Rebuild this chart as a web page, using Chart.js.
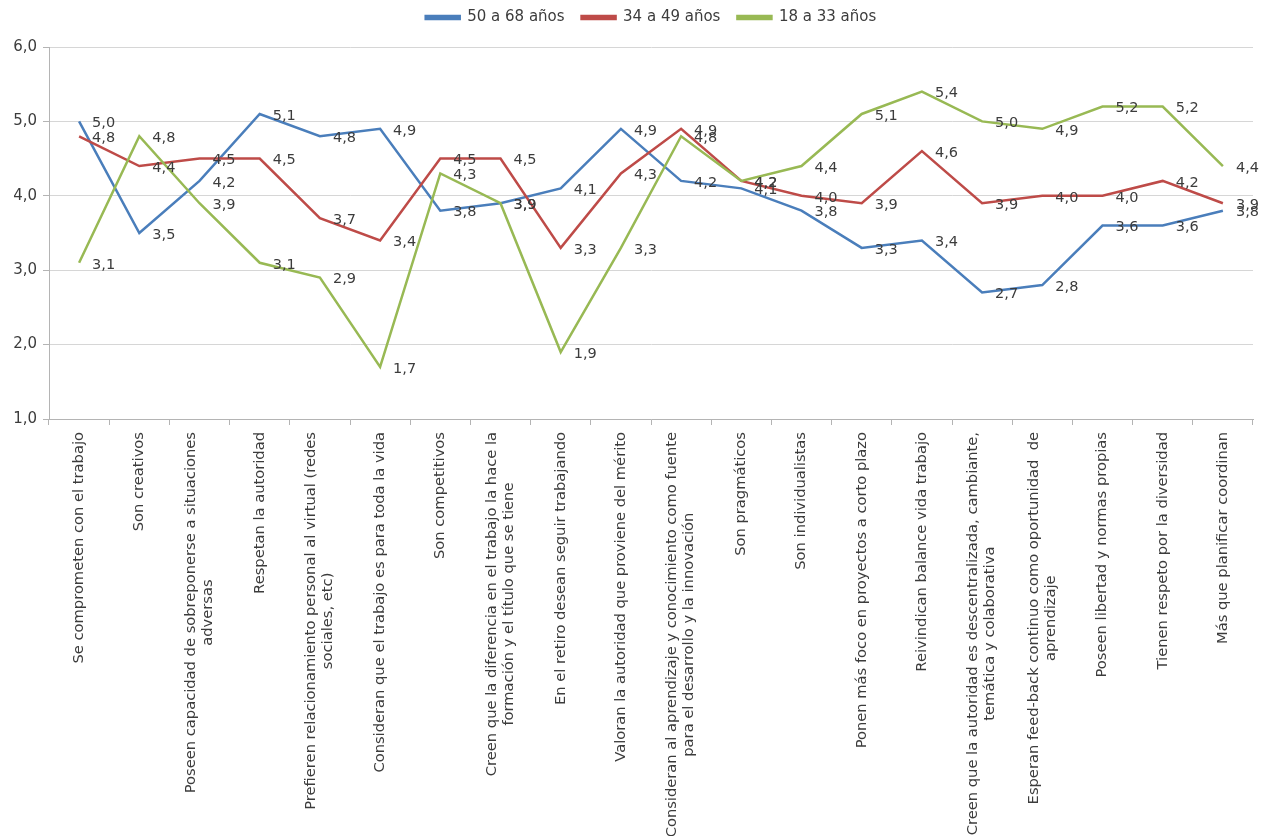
<!DOCTYPE html>
<html>
<head>
<meta charset="utf-8">
<title>Percepción por franja de edad</title>
<script src="https://cdn.jsdelivr.net/npm/chart.js@4.4.1/dist/chart.umd.min.js"></script>
<style>
  html, body { margin: 0; padding: 0; background: #ffffff; }
  #wrap { width: 1271px; height: 836px; position: relative; }
</style>
</head>
<body>
<div id="wrap"><canvas id="grafico"></canvas></div>
<script>
// Afirmaciones evaluadas (cada elemento = líneas de la etiqueta)
const categorias = [
  ['Se comprometen con el trabajo'],
  ['Son creativos'],
  ['Poseen capacidad de sobreponerse a situaciones', 'adversas'],
  ['Respetan la autoridad'],
  ['Prefieren relacionamiento personal al virtual (redes', 'sociales, etc)'],
  ['Consideran que el trabajo es para toda la vida'],
  ['Son competitivos'],
  ['Creen que la diferencia en el trabajo la hace la', 'formación y el título que se tiene'],
  ['En el retiro desean seguir trabajando'],
  ['Valoran la autoridad que proviene del mérito'],
  ['Consideran al aprendizaje y conocimiento como fuente', 'para el desarrollo y la innovación'],
  ['Son pragmáticos'],
  ['Son individualistas'],
  ['Ponen más foco en proyectos a corto plazo'],
  ['Reivindican balance vida trabajo'],
  ['Creen que la autoridad es descentralizada, cambiante,', 'temática y colaborativa'],
  ['Esperan feed-back continuo como oportunidad  de', 'aprendizaje'],
  ['Poseen libertad y normas propias'],
  ['Tienen respeto por la diversidad'],
  ['Más que planificar coordinan']
];

// Puntajes promedio por franja de edad
const edad50a68 = [5.0, 3.5, 4.2, 5.1, 4.8, 4.9, 3.8, 3.9, 4.1, 4.9, 4.2, 4.1, 3.8, 3.3, 3.4, 2.7, 2.8, 3.6, 3.6, 3.8];
const edad34a49 = [4.8, 4.4, 4.5, 4.5, 3.7, 3.4, 4.5, 4.5, 3.3, 4.3, 4.9, 4.2, 4.0, 3.9, 4.6, 3.9, 4.0, 4.0, 4.2, 3.9];
const edad18a33 = [3.1, 4.8, 3.9, 3.1, 2.9, 1.7, 4.3, 3.9, 1.9, 3.3, 4.8, 4.2, 4.4, 5.1, 5.4, 5.0, 4.9, 5.2, 5.2, 4.4];

const nombresSeries = ['50 a 68 años', '34 a 49 años', '18 a 33 años'];
const coloresSeries = ['#4a7ebb', '#be4b48', '#98b954'];

// Escala vertical
const ejeYMin = 1;
const ejeYMax = 6;
const ejeYPaso = 1;

const FUENTE = '"DejaVu Sans", "Liberation Sans", sans-serif';
const COLOR_TEXTO = '#3c3c3c';

const formatoDecimal = v => Number(v).toFixed(1).replace('.', ',');

// Etiquetas de valor a la derecha de cada punto
const etiquetasValor = {
  id: 'etiquetasValor',
  afterDatasetsDraw(chart) {
    const ctx = chart.ctx;
    ctx.save();
    ctx.font = '14.5px ' + FUENTE;
    ctx.fillStyle = COLOR_TEXTO;
    ctx.textAlign = 'left';
    ctx.textBaseline = 'middle';
    chart.data.datasets.forEach((ds, di) => {
      const meta = chart.getDatasetMeta(di);
      meta.data.forEach((pt, i) => {
        ctx.fillText(formatoDecimal(ds.data[i]), pt.x + 13, pt.y + 2);
      });
    });
    ctx.restore();
  }
};

// Etiquetas de categoría verticales, con líneas centradas entre sí
const etiquetasCategoria = {
  id: 'etiquetasCategoria',
  afterDraw(chart) {
    const xs = chart.scales.x;
    const ctx = chart.ctx;
    ctx.save();
    ctx.font = '14.7px ' + FUENTE;
    ctx.fillStyle = COLOR_TEXTO;
    ctx.textAlign = 'center';
    ctx.textBaseline = 'middle';
    categorias.forEach((lineas, i) => {
      const x = xs.getPixelForValue(i);
      const largo = Math.max(...lineas.map(l => ctx.measureText(l).width));
      const cy = xs.top + 13 + largo / 2;
      ctx.save();
      ctx.translate(x, cy);
      ctx.rotate(-Math.PI / 2);
      lineas.forEach((l, j) => {
        ctx.fillText(l, 0, (j - (lineas.length - 1) / 2) * 17);
      });
      ctx.restore();
    });
    ctx.restore();
  }
};

// Espacio adicional bajo la leyenda
const espacioLeyenda = {
  id: 'espacioLeyenda',
  beforeLayout(chart) {
    const lg = chart.legend;
    if (lg && !lg.__espacioExtra) {
      const fitOriginal = lg.fit;
      lg.fit = function () {
        fitOriginal.call(this);
        this.height += 12;
      };
      lg.__espacioExtra = true;
    }
  }
};

const series = [edad50a68, edad34a49, edad18a33];

new Chart(document.getElementById('grafico'), {
  type: 'line',
  data: {
    labels: categorias.map(l => l.join(' ')),
    datasets: series.map((valores, k) => ({
      label: nombresSeries[k],
      data: valores,
      borderColor: coloresSeries[k],
      backgroundColor: coloresSeries[k],
      borderWidth: 2.5,
      pointRadius: 0,
      tension: 0,
      fill: false,
      order: series.length - 1 - k
    }))
  },
  options: {
    responsive: true,
    maintainAspectRatio: false,
    animation: false,
    devicePixelRatio: 1,
    layout: { padding: { top: -7, right: 18, bottom: 0, left: 0 } },
    plugins: {
      tooltip: { enabled: false },
      legend: {
        position: 'top',
        fullSize: false,
        labels: {
          boxWidth: 34,
          boxHeight: 3,
          padding: 17,
          color: COLOR_TEXTO,
          font: { family: FUENTE, size: 15 },
          sort: (a, b) => a.datasetIndex - b.datasetIndex
        }
      }
    },
    scales: {
      x: {
        type: 'category',
        offset: true,
        afterFit(s) { s.height = 417; },
        grid: {
          offset: true,
          drawOnChartArea: false,
          drawTicks: true,
          tickLength: 6,
          color: '#b4b4b4'
        },
        border: { display: true, color: '#b4b4b4', width: 1 },
        ticks: { display: false }
      },
      y: {
        min: ejeYMin,
        max: ejeYMax,
        afterFit(s) { s.width = 49; },
        grid: {
          color: '#d6d6d6',
          drawTicks: true,
          tickLength: 6,
          tickColor: '#b4b4b4'
        },
        border: { display: true, color: '#b4b4b4', width: 1 },
        ticks: {
          stepSize: ejeYPaso,
          padding: 6,
          color: COLOR_TEXTO,
          font: { family: FUENTE, size: 15 },
          callback: v => formatoDecimal(v)
        }
      }
    }
  },
  plugins: [espacioLeyenda, etiquetasValor, etiquetasCategoria]
});
</script>
</body>
</html>
